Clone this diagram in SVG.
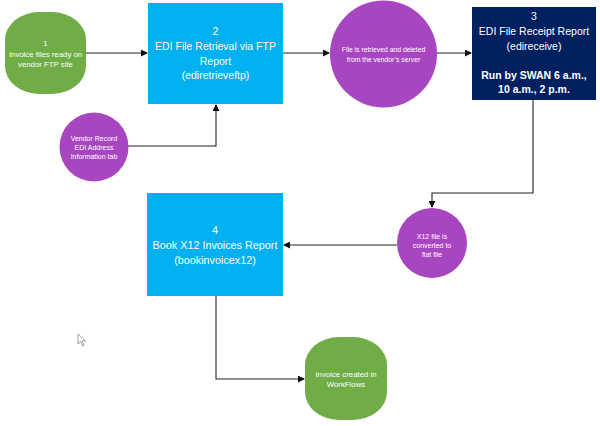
<svg xmlns="http://www.w3.org/2000/svg" width="600" height="426" viewBox="0 0 600 426">
<defs>
<marker id="arr" markerWidth="7" markerHeight="7" refX="6" refY="3.5" orient="auto" markerUnits="userSpaceOnUse">
<path d="M0,0 L7,3.5 L0,7 z" fill="#111"/>
</marker>
<style>
.green{fill:#70AD47}
.blue{fill:#00B0F0}
.navy{fill:#002060}
.purple{fill:#A845C0}
.t{font-family:"Liberation Sans",Arial,sans-serif;fill:#fff;text-anchor:middle}
.big{font-size:10.5px}
.sm{font-size:7px}
.b{font-weight:bold}
.conn{fill:none;stroke:#222;stroke-width:1.1}
</style>
</defs>
<rect width="600" height="426" fill="#fff"/>
<g id="connectors">
<path class="conn" d="M86,53 L147,53" marker-end="url(#arr)"/>
<path class="conn" d="M128,146 L216,146 L216,105" marker-end="url(#arr)"/>
<path class="conn" d="M283,53 L329,53" marker-end="url(#arr)"/>
<path class="conn" d="M437,53 L471,53" marker-end="url(#arr)"/>
<path class="conn" d="M533,100 L533,193 L432,193 L432,207" marker-end="url(#arr)"/>
<path class="conn" d="M397,245 L284,245" marker-end="url(#arr)"/>
<path class="conn" d="M216,296 L216,379 L304,379" marker-end="url(#arr)"/>
</g>
<g id="n1">
<rect class="green" x="5" y="12" width="81" height="82" rx="34" ry="28"/>
<text class="t" x="45.5" y="46" font-size="7.8">1</text>
<text class="t" x="45.5" y="56.5" font-size="7.8">Invoice files ready on</text>
<text class="t" x="45.5" y="66.5" font-size="7.8">vendor FTP site</text>
</g>
<g id="n2">
<rect class="blue" x="148" y="3" width="135" height="101"/>
<text class="t big" x="215.5" y="35">2</text>
<text class="t big" x="215.5" y="50">EDI File Retrieval via FTP</text>
<text class="t big" x="215.5" y="64.5">Report</text>
<text class="t big" x="215.5" y="79">(ediretrieveftp)</text>
</g>
<g id="vendor">
<circle class="purple" cx="94" cy="147" r="34.5"/>
<text class="t sm" x="94" y="140.5">Vendor Record</text>
<text class="t sm" x="94" y="149.5">EDI Address</text>
<text class="t sm" x="94" y="158.5">Information tab</text>
</g>
<g id="retrieved">
<circle class="purple" cx="383.5" cy="54" r="53.5"/>
<text class="t" font-size="6.8" x="383.5" y="51.5">File is retrieved and deleted</text>
<text class="t" font-size="6.8" x="383.5" y="61.5">from the vendor’s server</text>
</g>
<g id="n3">
<rect class="navy" x="472" y="7" width="124" height="93"/>
<text class="t big" x="534" y="20">3</text>
<text class="t big" x="534" y="35">EDI File Receipt Report</text>
<text class="t big" x="534" y="50">(edireceive)</text>
<text class="t big b" x="534" y="78.5">Run by SWAN 6 a.m.,</text>
<text class="t big b" x="534" y="93">10 a.m., 2 p.m.</text>
</g>
<g id="x12">
<circle class="purple" cx="432" cy="243" r="35"/>
<text class="t sm" x="432" y="238.5">X12 file is</text>
<text class="t sm" x="432" y="247.5">converted to</text>
<text class="t sm" x="432" y="256.5">flat file</text>
</g>
<g id="n4">
<rect class="blue" x="147" y="193" width="136" height="103"/>
<text class="t" font-size="10.8" x="215" y="233.5">4</text>
<text class="t" font-size="10.8" x="215" y="248.5">Book X12 Invoices Report</text>
<text class="t" font-size="10.8" x="215" y="263.5">(bookinvoicex12)</text>
</g>
<g id="n5">
<rect class="green" x="305" y="337" width="82" height="83" rx="34" ry="28"/>
<text class="t" font-size="7.8" x="346" y="376.5">Invoice created in</text>
<text class="t" font-size="7.8" x="346" y="386.5">WorkFlows</text>
</g>
<path d="M78,334 L78,344 L80.5,341.5 L82.5,346 L84,345.3 L82,341 L85.5,341 z" fill="#fff" stroke="#777" stroke-width="0.7"/>
</svg>
